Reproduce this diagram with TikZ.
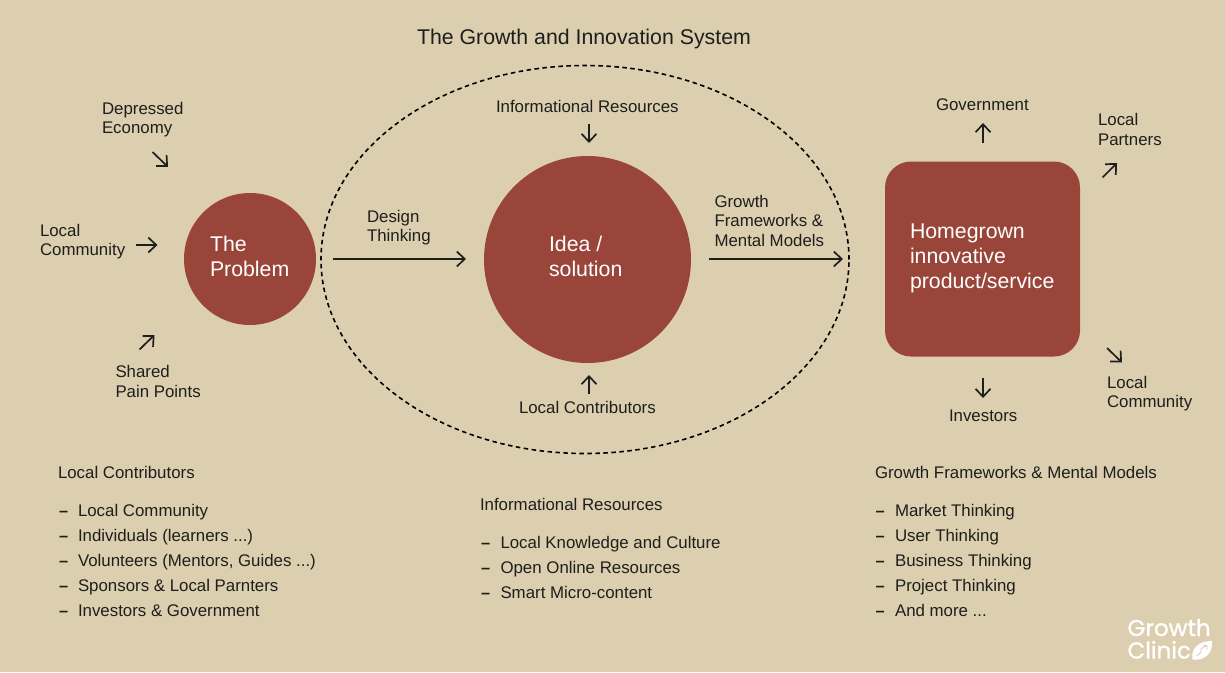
\documentclass[tikz,border=0pt]{standalone}
\usepackage{fontspec}
\setmainfont{Liberation Sans}
\newfontfamily\logofont[FakeBold=1.2]{Poppins}
\usetikzlibrary{arrows.meta,shapes.geometric}
\definecolor{bgcol}{HTML}{DCCFAF}
\definecolor{redcol}{HTML}{9A453A}
\definecolor{inkcol}{HTML}{1E1E1C}
\newcommand{\tdots}{.{}.{}.}
\tikzset{
  x=1pt,y=-1pt,
  lab/.style={anchor=base west,inner sep=0pt,outer sep=0pt,text=inkcol,font=\fontsize{16.85}{19.3}\selectfont,align=left},
  head/.style={lab,font=\fontsize{21.3}{25}\selectfont},
  white lab/.style={anchor=base west,inner sep=0pt,outer sep=0pt,text=white,font=\fontsize{21.3}{25}\selectfont,align=left},
  blob/.style={circle,fill=redcol,inner sep=0pt,outer sep=0pt},
  arr/.style={draw=inkcol,line width=1.7pt,-{Straight Barb[length=8pt,width=15pt,line width=1.7pt]}},
  dashmark/.style={anchor=base west,inner sep=0pt,outer sep=0pt,text=inkcol,font=\fontsize{16.4}{19.6}\selectfont\bfseries},
  logotext/.style={anchor=base west,inner sep=0pt,outer sep=0pt,text=white,font=\fontsize{23}{28}\logofont},
}
\begin{document}
\begin{tikzpicture}
\fill[bgcol] (0,0) rectangle (1225,672);
\useasboundingbox (0,0) rectangle (1225,672);
% main shapes
\node[blob,minimum size=132pt] (problem) at (250,259) {};
\node[blob,minimum size=207pt] (idea) at (587.5,259.5) {};
\node[draw=none,fill=redcol,rounded corners=26pt,minimum width=195pt,minimum height=195pt,inner sep=0pt,outer sep=0pt] (product) at (982.5,259) {};
\node[ellipse,draw=black,dash pattern=on 4.5pt off 3.5pt,line width=1.6pt,minimum width=528pt,minimum height=388pt,inner sep=0pt,outer sep=0pt] (sys) at (585,259.5) {};
% texts
\node[head] (title) at (417,44) {The Growth and Innovation System};
\node[white lab] (tprob) at (210,276.5) {The\\Problem};
\node[white lab] (tidea) at (549,276.5) {Idea /\\solution};
\node[white lab] (tprod) at (910,288.5) {Homegrown\\innovative\\product/service};
\node[lab] (depressed) at (102,133.5) {Depressed\\Economy};
\node[lab] (commL) at (40,255.5) {Local\\Community};
\node[lab] (shared) at (115.5,397) {Shared\\Pain Points};
\node[lab] (design) at (367,241.5) {Design\\Thinking};
\node[lab] (inform) at (496,112) {Informational Resources};
\node[lab] (contrib) at (519,413) {Local Contributors};
\node[lab] (frames) at (714.5,246) {Growth\\Frameworks \&\\Mental Models};
\node[lab] (gov) at (936,110) {Government};
\node[lab] (partners) at (1098,145) {Local\\Partners};
\node[lab] (invest) at (949,421) {Investors};
\node[lab] (commR) at (1107,407.5) {Local\\Community};
% free ends of the short arrows
\coordinate (a1s) at (152.5,152); \coordinate (a1e) at (168,167);
\coordinate (a2s) at (136,245); \coordinate (a2e) at (157.5,245);
\coordinate (a3s) at (139.5,349.5); \coordinate (a3e) at (154.5,335);
\coordinate (a4s) at (589,124); \coordinate (a4e) at (589,143);
\coordinate (a5s) at (589,394); \coordinate (a5e) at (589,375);
\coordinate (a6s) at (983,143); \coordinate (a6e) at (983,123);
\coordinate (a7s) at (1102.5,177.5); \coordinate (a7e) at (1117,163);
\coordinate (a8s) at (983,378); \coordinate (a8e) at (983,398);
\coordinate (a9s) at (1107,348); \coordinate (a9e) at (1122,362.5);
\coordinate (flow) at (0,259);
\draw[arr] (a1s) -- (a1e);
\draw[arr] (a2s) -- (a2e);
\draw[arr] (a3s) -- (a3e);
\draw[arr] (a4s) -- (a4e);
\draw[arr] (a5s) -- (a5e);
\draw[arr] (a6s) -- (a6e);
\draw[arr] (a7s) -- (a7e);
\draw[arr] (a8s) -- (a8e);
\draw[arr] (a9s) -- (a9e);
\draw[arr,shorten <=83pt,shorten >=121.5pt] (problem |- flow) -- (idea |- flow);
\draw[arr,shorten <=121.5pt,shorten >=6pt] (idea |- flow) -- (sys.east |- flow);
% left list
\node[lab] (l0) at (58,478.8) {Local Contributors};
\foreach \n/\yy/\t in {1/516/Local Community,2/541/Individuals (learners \tdots),3/566.5/{Volunteers (Mentors, Guides \tdots)},4/591.6/Sponsors \& Local Parnters,5/616.6/Investors \& Government}{
  \node[dashmark] (ld\n) at (59,\yy) {–};
  \node[lab] (l\n) at (78,\yy) {\t};
}
% middle list
\node[lab] (m0) at (480,510.8) {Informational Resources};
\foreach \n/\yy/\t in {1/548/Local Knowledge and Culture,2/573/Open Online Resources,3/598.5/Smart Micro-content}{
  \node[dashmark] (md\n) at (481,\yy) {–};
  \node[lab] (m\n) at (500.5,\yy) {\t};
}
% right list
\node[lab] (r0) at (875,478.8) {Growth Frameworks \& Mental Models};
\foreach \n/\yy/\t in {1/516/Market Thinking,2/541/User Thinking,3/566.5/Business Thinking,4/591.6/Project Thinking,5/616.6/And more \tdots}{
  \node[dashmark] (rd\n) at (875.5,\yy) {–};
  \node[lab] (r\n) at (895,\yy) {\t};
}
% logo
\node[logotext] (logo1) at (1127.5,636) {Growth};
\node[logotext] (logo2) at (1127.5,658.5) {Clinic};
\fill[white] (1192.5,659.5) .. controls (1190.5,648) and (1199,641) .. (1212,641) .. controls (1213,654) and (1204,661) .. (1192.5,659.5) -- cycle;
\draw[bgcol,line width=0.8pt] (1197,656) -- (1201,652) -- (1201,649) -- (1206,646) (1203,645.5) -- (1207,645.5) -- (1207,649.5);
\end{tikzpicture}
\end{document}
